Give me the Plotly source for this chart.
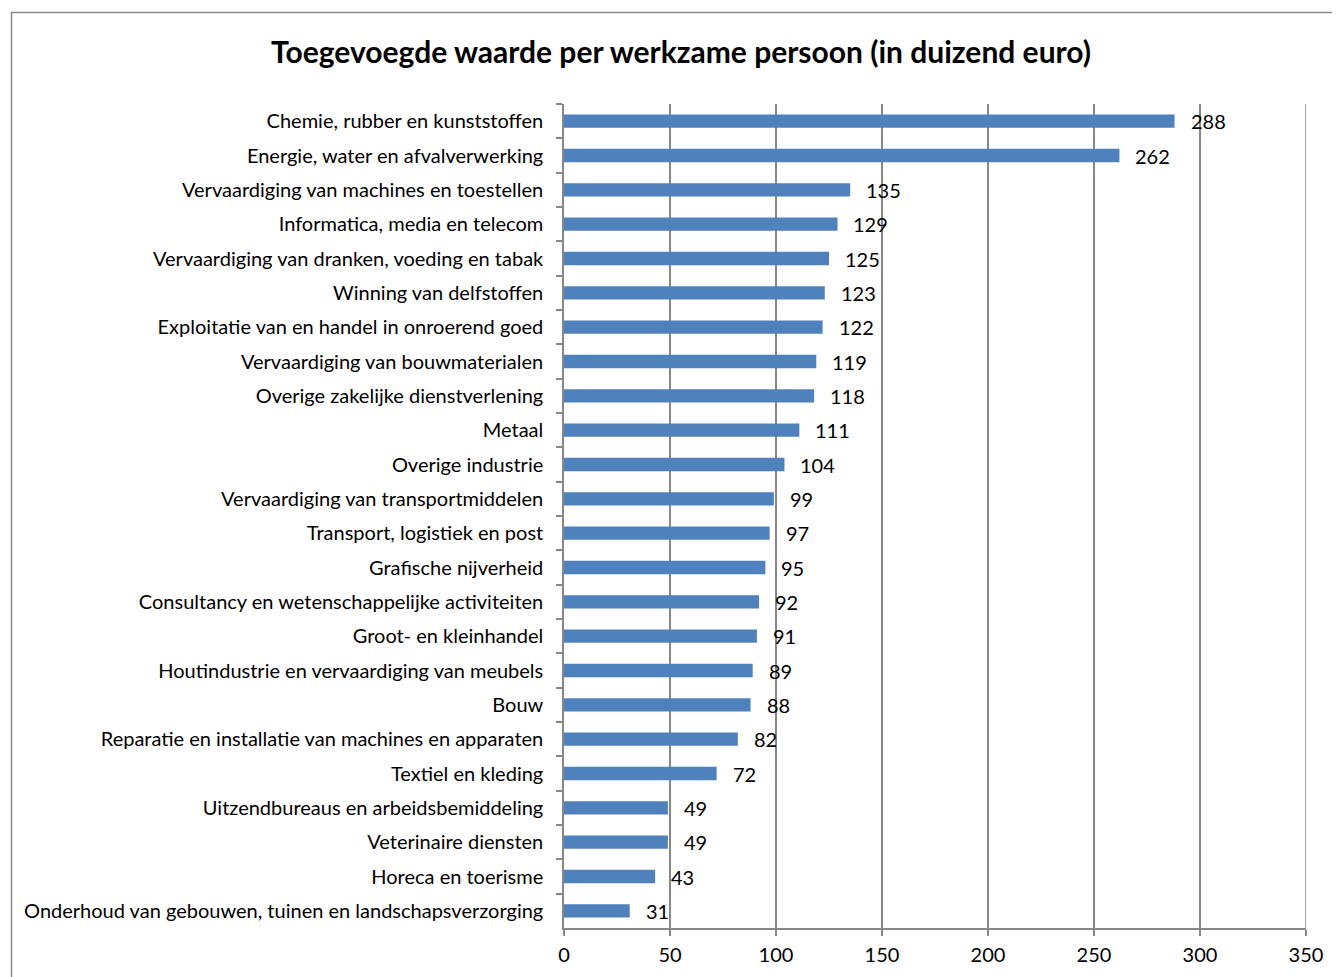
import plotly.graph_objects as go

categories = [
    "Chemie, rubber en kunststoffen",
    "Energie, water en afvalverwerking",
    "Vervaardiging van machines en toestellen",
    "Informatica, media en telecom",
    "Vervaardiging van dranken, voeding en tabak",
    "Winning van delfstoffen",
    "Exploitatie van en handel in onroerend goed",
    "Vervaardiging van bouwmaterialen",
    "Overige zakelijke dienstverlening",
    "Metaal",
    "Overige industrie",
    "Vervaardiging van transportmiddelen",
    "Transport, logistiek en post",
    "Grafische nijverheid",
    "Consultancy en wetenschappelijke activiteiten",
    "Groot- en kleinhandel",
    "Houtindustrie en vervaardiging van meubels",
    "Bouw",
    "Reparatie en installatie van machines en apparaten",
    "Textiel en kleding",
    "Uitzendbureaus en arbeidsbemiddeling",
    "Veterinaire diensten",
    "Horeca en toerisme",
    "Onderhoud van gebouwen, tuinen en landschapsverzorging",
]
values = [288, 262, 135, 129, 125, 123, 122, 119, 118, 111, 104, 99, 97, 95, 92, 91, 89, 88, 82, 72, 49, 49, 43, 31]
x_ticks = [0, 50, 100, 150, 200, 250, 300, 350]
title = "Toegevoegde waarde per werkzame persoon (in duizend euro)"

FONT = "Lato"
GRID = "#878787"

# page offset of the figure (body margin) is 8px
OFF = 8
W, H = 1340 - OFF, 977 - OFF
ml, mr, mt, mb = 564 - OFF, 34, 104 - OFF, 49
pw = W - ml - mr
ph = H - mt - mb

fig = go.Figure()
fig.add_trace(go.Bar(
    x=values, y=categories, orientation="h",
    marker=dict(color="#4F81BD", line=dict(width=0)),
    hoverinfo="x+y",
))

for c, v in zip(categories, values):
    fig.add_annotation(x=v, y=c, text=str(v), showarrow=False,
                       xanchor="left", xshift=14,
                       font=dict(family=FONT, size=20, color="black"))

def px_to_paper_x(px):
    return (px - OFF - ml) / pw

def px_to_paper_y(py):
    return 1 - (py - OFF - mt) / ph

# outer chart frame
fig.add_shape(type="rect", xref="paper", yref="paper",
              x0=px_to_paper_x(11.5), x1=px_to_paper_x(1350),
              y0=px_to_paper_y(990), y1=px_to_paper_y(12.5),
              line=dict(color="#8c8c8c", width=1.5), fillcolor="rgba(0,0,0,0)",
              layer="below")

# gridline at the last tick (plotly omits it at the range edge)
fig.add_shape(type="line", xref="x", yref="paper",
              x0=x_ticks[-1], x1=x_ticks[-1], y0=0, y1=1,
              line=dict(color=GRID, width=1.5), layer="below")

fig.update_layout(
    width=W, height=H,
    margin=dict(l=ml, r=mr, t=mt, b=mb, autoexpand=False),
    paper_bgcolor="white", plot_bgcolor="white",
    bargap=0.61,
    showlegend=False,
    title=dict(text="<b>" + title + "</b>", x=(681 - OFF) / W, xanchor="center",
               y=1 - (52 - OFF) / H, yanchor="middle",
               font=dict(family=FONT, size=30, color="black")),
    font=dict(family=FONT, size=20, color="black"),
    xaxis=dict(range=[0, 350], tickvals=x_ticks, showgrid=True,
               gridcolor=GRID, gridwidth=1.5, zeroline=False,
               showline=True, linecolor=GRID, linewidth=1.5,
               ticks="outside", ticklen=6, tickcolor=GRID, tickwidth=1.5,
               ticklabelstandoff=2,
               tickfont=dict(family=FONT, size=20, color="black"),
               fixedrange=True),
    yaxis=dict(autorange="reversed", type="category",
               showline=True, linecolor=GRID, linewidth=1.5,
               ticks="outside", ticklen=6, tickcolor=GRID, tickwidth=1.5,
               tickson="boundaries", showgrid=False,
               ticklabelstandoff=15,
               tickfont=dict(family=FONT, size=20, color="black"),
               fixedrange=True),
)

fig.write_html("out.html")
